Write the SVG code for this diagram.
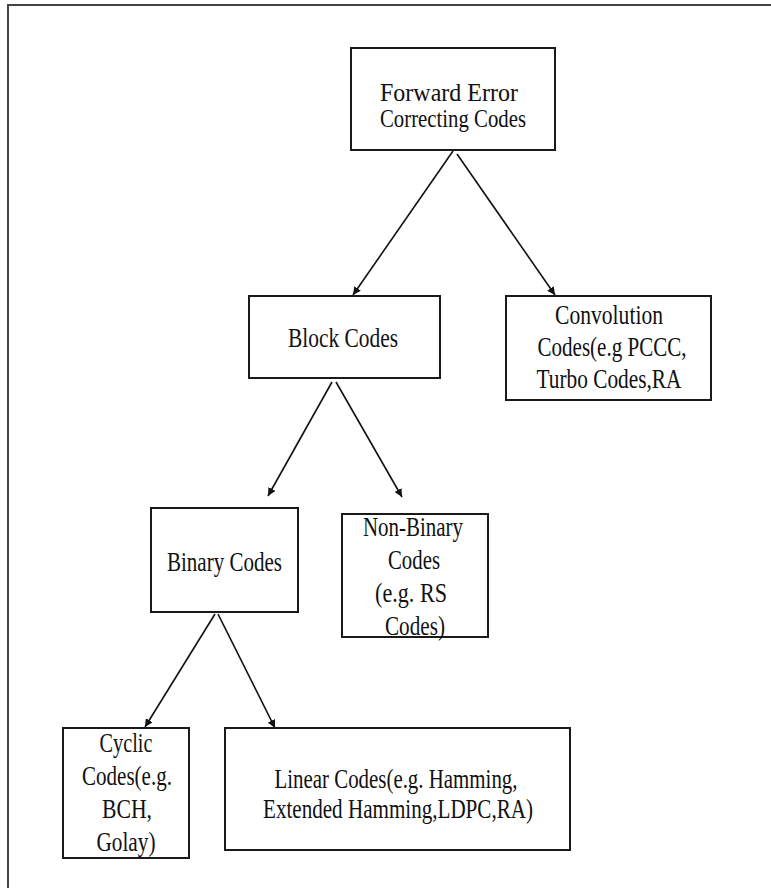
<svg xmlns="http://www.w3.org/2000/svg" width="771" height="888" viewBox="0 0 771 888">
<defs>
<style>
.box{fill:#fff;stroke:#1a1a1a;stroke-width:2}
.t{font-family:"Liberation Serif","Times New Roman",serif;font-size:27px;fill:#111;text-anchor:middle}
.s{font-size:25px}
.c{stroke:#111;stroke-width:1.6;fill:none;marker-end:url(#ah)}
</style>
<marker id="ah" viewBox="0 0 10 10" refX="10" refY="5" markerWidth="8" markerHeight="8" markerUnits="userSpaceOnUse" orient="auto">
<path d="M0,0 L10,5 L0,10 z" fill="#111"/>
</marker>
</defs>
<rect width="771" height="888" fill="#fff"/>
<path d="M8,888 V5 H771" fill="none" stroke="#444" stroke-width="2"/>
<g id="connectors">
<line class="c" x1="453" y1="151" x2="353" y2="295"/>
<line class="c" x1="457" y1="154" x2="555" y2="295"/>
<line class="c" x1="332" y1="382" x2="268" y2="496"/>
<line class="c" x1="336" y1="382" x2="402" y2="497"/>
<line class="c" x1="215" y1="614" x2="145" y2="727"/>
<line class="c" x1="218" y1="614" x2="275" y2="728"/>
</g>
<g id="fec">
<rect class="box" x="351" y="48" width="204" height="102"/>
<text class="t s" x="449" y="101" textLength="138" lengthAdjust="spacingAndGlyphs">Forward Error</text>
<text class="t s" x="453" y="127" textLength="146" lengthAdjust="spacingAndGlyphs">Correcting Codes</text>
</g>
<g id="block">
<rect class="box" x="249" y="296" width="191" height="82"/>
<text class="t" x="343" y="347" textLength="110" lengthAdjust="spacingAndGlyphs">Block Codes</text>
</g>
<g id="conv">
<rect class="box" x="506" y="296" width="205" height="104"/>
<text class="t" x="609" y="324" textLength="108" lengthAdjust="spacingAndGlyphs">Convolution</text>
<text class="t" x="612" y="356" textLength="149" lengthAdjust="spacingAndGlyphs">Codes(e.g PCCC,</text>
<text class="t" x="609" y="388" textLength="145" lengthAdjust="spacingAndGlyphs">Turbo Codes,RA</text>
</g>
<g id="binary">
<rect class="box" x="151" y="508" width="147" height="104"/>
<text class="t" x="224.5" y="571" textLength="115" lengthAdjust="spacingAndGlyphs">Binary Codes</text>
</g>
<g id="nonbinary">
<rect class="box" x="342" y="514" width="146" height="123"/>
<text class="t" x="413" y="536" textLength="100" lengthAdjust="spacingAndGlyphs">Non-Binary</text>
<text class="t" x="414" y="569" textLength="52" lengthAdjust="spacingAndGlyphs">Codes</text>
<text class="t" x="411" y="602" textLength="72" lengthAdjust="spacingAndGlyphs">(e.g. RS</text>
<text class="t" x="415" y="635" textLength="60" lengthAdjust="spacingAndGlyphs">Codes)</text>
</g>
<g id="cyclic">
<rect class="box" x="63" y="728" width="126" height="130"/>
<text class="t" x="126" y="752" textLength="53" lengthAdjust="spacingAndGlyphs">Cyclic</text>
<text class="t" x="127" y="785" textLength="90" lengthAdjust="spacingAndGlyphs">Codes(e.g.</text>
<text class="t" x="127" y="818" textLength="50" lengthAdjust="spacingAndGlyphs">BCH,</text>
<text class="t" x="126" y="851" textLength="59" lengthAdjust="spacingAndGlyphs">Golay)</text>
</g>
<g id="linear">
<rect class="box" x="225" y="728" width="345" height="122"/>
<text class="t" x="396" y="788" textLength="243" lengthAdjust="spacingAndGlyphs">Linear Codes(e.g. Hamming,</text>
<text class="t" x="398" y="818" textLength="270" lengthAdjust="spacingAndGlyphs">Extended Hamming,LDPC,RA)</text>
</g>
</svg>
